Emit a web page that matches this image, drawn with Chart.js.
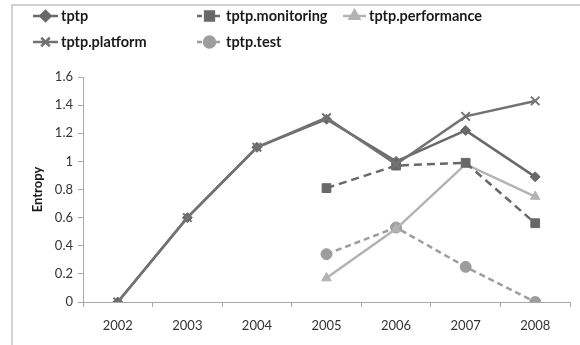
<!DOCTYPE html>
<html>
<head>
<meta charset="utf-8">
<script src="https://cdn.jsdelivr.net/npm/chart.js@4.4.1/dist/chart.umd.min.js"></script>
<style>
  html, body { margin: 0; padding: 0; background: #fff; }
  #wrap { position: relative; width: 580px; height: 345px; overflow: hidden; font-family: Lato, "Open Sans", sans-serif; }
  #frame { position: absolute; left: 11px; top: 4px; right: -4px; bottom: -4px;
           border-left: 2px solid #d2d2d2; border-top: 2px solid #d2d2d2; }
  canvas { position: absolute; left: 0; top: 0; }
  .lg { position: absolute; font-weight: bold; font-size: 14.5px; color: #1a1a1a; line-height: 16px;
        transform: translateY(-50%); white-space: nowrap; }
</style>
</head>
<body>
<div id="wrap">
  <div id="frame"></div>
  <canvas id="c" width="580" height="345"></canvas>
</div>
<script>
// Years on the x axis
const years = ['2002', '2003', '2004', '2005', '2006', '2007', '2008'];

// Entropy per project component
const tptp            = [0, 0.6, 1.1, 1.30, 1.00, 1.22, 0.89];
const tptpMonitoring  = [null, null, null, 0.81, 0.97, 0.99, 0.56];
const tptpPerformance = [null, null, null, 0.17, 0.52, 0.98, 0.75];
const tptpPlatform    = [0, 0.6, 1.1, 1.31, 0.98, 1.32, 1.43];
const tptpTest        = [null, null, null, 0.34, 0.53, 0.25, 0];

// Y axis tick values
const yTicks = [0, 0.2, 0.4, 0.6, 0.8, 1, 1.2, 1.4, 1.6];

const FONT = 'Lato, "Open Sans", sans-serif';

function series(label, data, color, style, radius, dash, order) {
  return {
    label, data,
    borderColor: color, backgroundColor: color,
    pointBackgroundColor: color, pointBorderColor: color,
    borderWidth: 2.5, borderDash: dash || [],
    pointStyle: style, pointRadius: radius, pointHoverRadius: radius,
    pointBorderWidth: style === 'crossRot' ? 2 : 1,
    tension: 0, spanGaps: false, order: order || 0
  };
}

const datasets = [
  series('tptp', tptp, '#696969', 'rectRot', 5, null, 0),
  series('tptp.monitoring', tptpMonitoring, '#686868', 'rect', 6.2, [8, 5], 1),
  series('tptp.performance', tptpPerformance, '#b3b3b3', 'triangle', 5.5, null, 2),
  series('tptp.platform', tptpPlatform, '#727272', 'crossRot', 6, null, -1),
  series('tptp.test', tptpTest, '#9d9d9d', 'circle', 5.5, [6, 4], 3)
];

// Legend layout: two rows, three columns
const legendRows = [16, 42];
const legendCols = [{ x1: 33, x2: 58, tx: 61 }, { x1: 197, x2: 222, tx: 226 }, { x1: 343, x2: 366, tx: 369 }];
const legendSlots = [[0, 0], [0, 1], [0, 2], [1, 0], [1, 1]];

const wrap = document.getElementById('wrap');
datasets.forEach((ds, i) => {
  const [r, c] = legendSlots[i];
  const el = document.createElement('div');
  el.className = 'lg';
  el.textContent = ds.label;
  el.style.left = legendCols[c].tx + 'px';
  el.style.top = legendRows[r] + 'px';
  wrap.appendChild(el);
});

const legendMarkers = {
  id: 'legendMarkers',
  afterDraw(chart) {
    const ctx = chart.ctx;
    chart.data.datasets.forEach((ds, i) => {
      const [r, c] = legendSlots[i];
      const y = legendRows[r];
      const col = legendCols[c];
      ctx.save();
      ctx.strokeStyle = ds.borderColor;
      ctx.fillStyle = ds.backgroundColor;
      ctx.lineWidth = 2.5;
      ctx.setLineDash(ds.borderDash.length ? [5, 4] : []);
      ctx.beginPath();
      ctx.moveTo(col.x1, y);
      ctx.lineTo(col.x2, y);
      ctx.stroke();
      ctx.setLineDash([]);
      Chart.helpers.drawPoint(ctx, {
        pointStyle: ds.pointStyle,
        radius: ds.pointRadius,
        rotation: 0,
        borderWidth: ds.pointBorderWidth
      }, (col.x1 + col.x2) / 2, y);
      ctx.restore();
    });
  }
};

new Chart(document.getElementById('c'), {
  type: 'line',
  data: { labels: years, datasets },
  options: {
    responsive: false,
    animation: false,
    events: [],
    layout: { padding: { top: 77, right: 10, left: 0, bottom: 0 } },
    plugins: { legend: { display: false }, tooltip: { enabled: false } },
    scales: {
      x: {
        type: 'category',
        offset: true,
        grid: { offset: true, drawOnChartArea: false, tickLength: 5, color: '#a8a8a8', lineWidth: 1 },
        border: { color: '#a8a8a8', width: 1 },
        ticks: { font: { family: FONT, size: 13 }, color: '#333', padding: 11, maxRotation: 0 },
        afterFit(s) { s.height = 43; }
      },
      y: {
        min: 0, max: 1.6,
        afterBuildTicks(s) { s.ticks = yTicks.map(v => ({ value: v })); },
        grid: { drawOnChartArea: false, tickLength: 5, color: '#a8a8a8', lineWidth: 1 },
        border: { color: '#a8a8a8', width: 1 },
        ticks: { font: { family: FONT, size: 13 }, color: '#333', padding: 5,
                 callback: v => String(Number(v.toFixed(1))) },
        title: { display: true, text: 'Entropy', color: '#1a1a1a',
                 font: { family: FONT, size: 13, weight: 'bold' }, padding: { top: 30, bottom: 0 } },
        afterFit(s) { s.width = 83; }
      }
    }
  },
  plugins: [legendMarkers]
});
</script>
</body>
</html>
